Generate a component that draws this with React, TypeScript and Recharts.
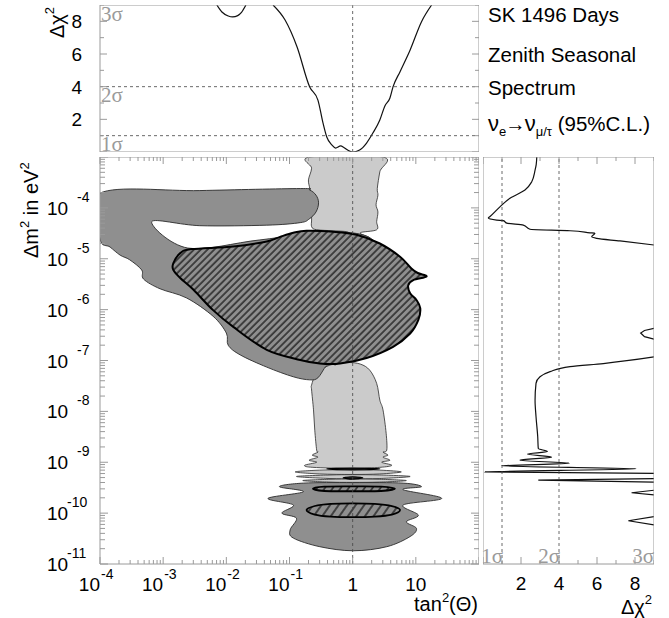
import React from 'react';
import { ComposedChart, Scatter, XAxis, YAxis, ReferenceLine, ReferenceArea } from 'recharts';

const SANS = '"Liberation Sans", Arial, Helvetica, sans-serif';
const SERIF = '"Liberation Serif", "Times New Roman", serif';
const FRAME = '#9a9a9a';
const SIGMA_GREY = '#9a9a9a';
const DARK = '#8f8f8f';
const LIGHT = '#cbcbcb';
const EDGE = '#2a2a2a';

// axes: x = log10(tan²Θ), y = log10(Δm² / eV²), side/top = Δχ²
const X_DOMAIN: [number, number] = [-4, 2];
const Y_DOMAIN: [number, number] = [-11, -3];
const CHI_DOMAIN: [number, number] = [0, 9];
const X_DECADES = [-4, -3, -2, -1, 0, 1, 2];
const Y_DECADES = [-11, -10, -9, -8, -7, -6, -5, -4, -3];
const MINOR_STEPS = [2, 3, 4, 5, 6, 7, 8, 9];
const CHI_TICKS = [0, 1, 2, 3, 4, 5, 6, 7, 8, 9];
const CHI_LABELS = [2, 4, 6, 8];
const SIGMA_LINES = [1, 4];
const SIGMA_NAMES = ['1σ', '2σ', '3σ'];

const X_LABEL_AT = [-4, -3, -2, -1, 0, 1];
const X_LABEL_BASE = ['10', '10', '10', '10', '1', '10'];
const X_LABEL_EXP = ['-4', '-3', '-2', '-1', '', ''];
const Y_LABEL_AT = [-11, -10, -9, -8, -7, -6, -5, -4];
const Y_LABEL_EXP = ['-11', '-10', '-9', '-8', '-7', '-6', '-5', '-4'];

// top panel: Δχ² versus tan²Θ
const TOP_ARC: [number, number][] = [
  [-2.15, 9.0], [-2.07, 8.57], [-1.97, 8.33], [-1.9, 8.27], [-1.82, 8.35], [-1.76, 8.55], [-1.69, 9.0],
];
const TOP_CURVE: [number, number][] = [
  [-1.26, 9.0], [-1.07, 8.08], [-0.88, 6.43], [-0.68, 3.98], [-0.55, 3.18], [-0.47, 1.78], [-0.41, 0.92],
  [-0.33, 0.43], [-0.27, 0.24], [-0.19, 0.37], [-0.14, 0.28], [-0.08, 0.12], [0.0, 0.0], [0.11, 0.12],
  [0.22, 0.55], [0.32, 1.16], [0.43, 1.96], [0.51, 2.82], [0.59, 3.31], [0.64, 4.0], [0.75, 4.92],
  [0.91, 6.25], [1.09, 7.98], [1.25, 9.0],
];

// side panel: Δχ² versus Δm²
const SIDE_A: [number, number][] = [
  [2.83, -3.0], [2.8, -3.15], [2.74, -3.26], [2.56, -3.49], [2.21, -3.65], [1.42, -3.81], [0.89, -3.98],
  [0.37, -4.17], [0.28, -4.2], [0.72, -4.24], [1.07, -4.25], [1.25, -4.3], [2.12, -4.34], [2.47, -4.42],
  [4.58, -4.45], [5.63, -4.49], [5.89, -4.5], [5.72, -4.57], [5.98, -4.6], [7.21, -4.65], [9.0, -4.73],
];
const SIDE_B: [number, number][] = [[9.0, -6.37], [8.5, -6.41], [8.3, -6.46], [8.5, -6.53], [9.0, -6.58]];
const SIDE_C: [number, number][] = [
  [9.0, -6.93], [6.33, -7.06], [4.58, -7.12], [3.53, -7.22], [3.0, -7.32], [2.79, -7.45], [2.74, -7.78],
  [2.79, -8.1], [2.88, -8.5], [2.91, -8.73], [3.39, -8.79], [2.33, -8.84], [3.61, -8.9], [1.95, -8.96],
  [4.54, -9.02], [0.98, -9.07], [8.05, -9.13], [0.1, -9.19], [9.0, -9.22],
];
const SIDE_D: [number, number][] = [[9.0, -9.32], [2.91, -9.35], [9.0, -9.39]];
const SIDE_E: [number, number][] = [[9.0, -9.55], [7.82, -9.6], [9.0, -9.64]];
const SIDE_F: [number, number][] = [[9.0, -10.07], [7.65, -10.15], [9.0, -10.23]];

// main panel regions (outlines)
const LIGHT_UPPER: [number, number][] = [
  [-0.68, -3.0], [-0.65, -3.22], [-0.7, -3.45], [-0.68, -3.62], [-0.67, -3.85], [-0.65, -4.2], [-0.65, -4.37],
  [-0.57, -4.43], [-0.31, -4.45], [-0.09, -4.47], [-0.01, -4.53], [0.27, -4.59], [0.12, -4.49], [0.38, -4.43],
  [0.38, -4.27], [0.4, -4.08], [0.37, -3.94], [0.4, -3.75], [0.39, -3.62], [0.43, -3.29], [0.48, -3.0],
];
const LIGHT_LOWER: [number, number][] = [
  [-0.65, -7.48], [-0.57, -7.25], [-0.36, -7.09], [-0.09, -7.04], [0.12, -7.07], [0.27, -7.19], [0.38, -7.45],
  [0.43, -7.78], [0.48, -7.97], [0.53, -8.43], [0.54, -8.76], [0.48, -8.8], [0.56, -8.86], [0.48, -8.9],
  [0.59, -8.96], [0.46, -9.0], [0.62, -9.06], [0.43, -9.1], [0.0, -9.12], [-0.63, -9.1], [-0.76, -9.06],
  [-0.57, -9.0], [-0.69, -8.96], [-0.55, -8.9], [-0.64, -8.86], [-0.55, -8.8], [-0.57, -8.76], [-0.6, -8.37],
  [-0.62, -7.97], [-0.65, -7.58],
];
const LENS_A: [number, number][] = [
  [-0.91, -9.19], [-0.52, -9.155], [0.0, -9.145], [0.43, -9.155], [0.77, -9.19], [0.43, -9.23], [0.0, -9.24], [-0.52, -9.23],
];
const LENS_B: [number, number][] = [
  [-0.89, -9.28], [-0.36, -9.25], [0.0, -9.245], [0.43, -9.25], [0.91, -9.28], [0.43, -9.32], [0.0, -9.325], [-0.36, -9.32],
];
const LENS_C: [number, number][] = [
  [-0.79, -9.36], [-0.36, -9.335], [0.0, -9.33], [0.43, -9.335], [0.85, -9.36], [0.43, -9.39], [0.0, -9.395], [-0.36, -9.39],
];
const STREAK: [number, number][] = [[-0.41, -9.13], [0.0, -9.115], [0.43, -9.13], [0.0, -9.15]];
const DOT: [number, number][] = [[-0.15, -9.305], [0.0, -9.285], [0.16, -9.305], [0.0, -9.33]];
const DARK_UPPER: [number, number][] = [
  [-4.0, -3.71], [-2.42, -3.66], [-0.83, -3.62], [-0.68, -3.65], [-0.58, -3.75], [-0.54, -3.9], [-0.58, -4.08],
  [-0.69, -4.22], [-0.83, -4.29], [-1.36, -4.34], [-2.42, -4.35], [-3.18, -4.27], [-2.61, -4.79], [-1.47, -4.63],
  [-0.2, -4.47], [0.43, -4.83], [0.43, -6.4], [-0.2, -7.03], [-0.31, -7.07], [-0.42, -7.11], [-0.55, -7.34],
  [-0.68, -7.38], [-0.94, -7.32], [-1.36, -7.13], [-1.78, -6.89], [-1.97, -6.7], [-2.0, -6.46], [-2.21, -6.13],
  [-2.63, -5.77], [-3.05, -5.59], [-3.31, -5.4], [-3.34, -5.22], [-3.53, -5.02], [-3.68, -4.93], [-3.84, -4.77],
  [-4.0, -4.61],
];
const DARK_LOWER: [number, number][] = [
  [-1.16, -9.48], [-0.78, -9.41], [0.0, -9.4], [0.8, -9.41], [1.09, -9.48], [0.8, -9.54], [1.41, -9.71],
  [0.8, -9.84], [1.04, -10.04], [0.85, -10.17], [1.01, -10.3], [0.91, -10.46], [0.54, -10.66], [0.01, -10.74],
  [-0.52, -10.66], [-0.94, -10.49], [-0.99, -10.33], [-0.89, -10.1], [-1.12, -10.0], [-0.94, -9.84],
  [-1.34, -9.71], [-0.78, -9.58],
];
const HATCH_MAIN: [number, number][] = [
  [-2.84, -5.09], [-2.73, -4.89], [-2.55, -4.81], [-1.89, -4.76], [-1.36, -4.66], [-1.15, -4.57], [-0.94, -4.49],
  [-0.73, -4.45], [-0.31, -4.47], [0.06, -4.53], [0.43, -4.7], [0.75, -4.96], [0.93, -5.19], [1.03, -5.28],
  [1.17, -5.35], [0.96, -5.42], [0.88, -5.52], [0.91, -5.68], [1.01, -5.81], [1.07, -5.97], [1.04, -6.2],
  [0.91, -6.47], [0.64, -6.73], [0.22, -6.95], [-0.2, -7.06], [-0.52, -7.06], [-0.83, -6.99], [-1.36, -6.79],
  [-1.89, -6.34], [-2.21, -6.01], [-2.52, -5.61], [-2.73, -5.38], [-2.84, -5.22],
];
const HATCH_THIN: [number, number][] = [
  [-0.63, -9.52], [-0.45, -9.48], [0.02, -9.475], [0.45, -9.48], [0.67, -9.52], [0.45, -9.565], [0.02, -9.57], [-0.45, -9.565],
];
const HATCH_OVAL: [number, number][] = [
  [-0.73, -9.94], [-0.6, -9.86], [-0.35, -9.82], [0.0, -9.81], [0.35, -9.82], [0.62, -9.86], [0.75, -9.94],
  [0.62, -10.03], [0.35, -10.07], [0.0, -10.08], [-0.35, -10.07], [-0.6, -10.03],
];

const MAIN = { left: 100, top: 157, w: 379, h: 407 };
const TOP = { top: 5, h: 147 };
const SIDE = { left: 483, w: 171 };

const pts = (a: [number, number][]) => a.map(([x, y]) => ({ x, y }));
const logTicks = (dec: number[]) =>
  dec.flatMap((d, i) => (i < dec.length - 1 ? [d, ...MINOR_STEPS.map((k) => d + Math.log10(k))] : [d]));
const X_TICKS = logTicks(X_DECADES);
const Y_TICKS = logTicks(Y_DECADES);
const whole = (v: number) => Math.abs(v - Math.round(v)) < 1e-6;
const find = (arr: number[], v: number) => arr.findIndex((a) => Math.abs(a - v) < 1e-6);
const noDot = () => <g />;

type P = { x: number; y: number };
function closedPath(p: P[]) {
  const n = p.length;
  let d = `M${p[0].x},${p[0].y}`;
  for (let i = 0; i < n; i++) {
    const a = p[(i - 1 + n) % n], b = p[i], c = p[(i + 1) % n], e = p[(i + 2) % n];
    d += `C${b.x + (c.x - a.x) / 6},${b.y + (c.y - a.y) / 6} ${c.x - (e.x - b.x) / 6},${c.y - (e.y - b.y) / 6} ${c.x},${c.y}`;
  }
  return d + 'Z';
}

function blob(fill: string, stroke: string, sw: number, hatch?: { id: string; gap: number; angle: number }) {
  return (lp: any) => {
    const p: P[] = (lp.points || []).filter((q: any) => q && q.x != null && q.y != null);
    if (p.length < 3) return <g />;
    return (
      <g>
        {hatch && (
          <defs>
            <pattern id={hatch.id} patternUnits="userSpaceOnUse" width={hatch.gap} height={hatch.gap}
              patternTransform={`rotate(${hatch.angle})`}>
              <rect width={hatch.gap} height={hatch.gap} fill={fill} />
              <line x1={1} y1={0} x2={1} y2={hatch.gap} stroke="#111" strokeWidth={1.25} />
            </pattern>
          </defs>
        )}
        <path d={closedPath(p)} fill={hatch ? `url(#${hatch.id})` : fill} stroke={stroke} strokeWidth={sw}
          strokeLinejoin="round" />
      </g>
    );
  };
}

const txt = { fontFamily: SANS, fill: '#000' };

function MainXTick({ x, y, payload }: any) {
  const v = payload.value;
  const len = whole(v) ? 7 : 4;
  const i = find(X_LABEL_AT, v);
  return (
    <g>
      <line x1={x} y1={y} x2={x} y2={y - len} stroke={FRAME} />
      <line x1={x} y1={y - MAIN.h} x2={x} y2={y - MAIN.h + len} stroke={FRAME} />
      {i >= 0 && X_LABEL_EXP[i] === '' && (
        <text x={x} y={y + 27} textAnchor="middle" fontSize={19} {...txt}>{X_LABEL_BASE[i]}</text>
      )}
      {i >= 0 && X_LABEL_EXP[i] !== '' && (
        <g>
          <text x={x} y={y + 27} textAnchor="end" fontSize={19} {...txt}>{X_LABEL_BASE[i]}</text>
          <text x={x + 1} y={y + 15} fontSize={14} {...txt}>{X_LABEL_EXP[i]}</text>
        </g>
      )}
    </g>
  );
}

function MainYTick({ x, y, payload }: any) {
  const v = payload.value;
  const len = whole(v) ? 8 : 5;
  const i = find(Y_LABEL_AT, v);
  const e = i >= 0 ? Y_LABEL_EXP[i] : '';
  return (
    <g>
      <line x1={x} y1={y} x2={x + len} y2={y} stroke={FRAME} />
      <line x1={x + MAIN.w} y1={y} x2={x + MAIN.w - len} y2={y} stroke={FRAME} />
      {i >= 0 && (
        <g>
          <text x={x - 53} y={y + 7} fontSize={19} {...txt}>10</text>
          <text x={x - (e.length > 2 ? 33 : 23)} y={y - 6} fontSize={14} {...txt}>{e}</text>
        </g>
      )}
    </g>
  );
}

function TopXTick({ x, y, payload }: any) {
  const len = whole(payload.value) ? 7 : 4;
  return (
    <g>
      <line x1={x} y1={y} x2={x} y2={y - len} stroke={FRAME} />
      <line x1={x} y1={y - TOP.h} x2={x} y2={y - TOP.h + len} stroke={FRAME} />
    </g>
  );
}

function TopYTick({ x, y, payload }: any) {
  const v = payload.value;
  const len = v % 2 === 0 ? 7 : 4;
  return (
    <g>
      <line x1={x} y1={y} x2={x + len} y2={y} stroke={FRAME} />
      <line x1={x + MAIN.w} y1={y} x2={x + MAIN.w - len} y2={y} stroke={FRAME} />
      {CHI_LABELS.includes(v) && (
        <text x={x - 18} y={y + 7} textAnchor="end" fontSize={19} {...txt}>{v}</text>
      )}
    </g>
  );
}

function SideXTick({ x, y, payload }: any) {
  const v = payload.value;
  const len = v % 2 === 0 ? 7 : 4;
  return (
    <g>
      <line x1={x} y1={y} x2={x} y2={y - len} stroke={FRAME} />
      <line x1={x} y1={y - MAIN.h} x2={x} y2={y - MAIN.h + len} stroke={FRAME} />
      {CHI_LABELS.includes(v) && (
        <text x={x} y={y + 26} textAnchor="middle" fontSize={19} {...txt}>{v}</text>
      )}
    </g>
  );
}

function SideYTick({ x, y, payload }: any) {
  const len = whole(payload.value) ? 8 : 5;
  return (
    <g>
      <line x1={x} y1={y} x2={x + len} y2={y} stroke={FRAME} />
      <line x1={x + SIDE.w} y1={y} x2={x + SIDE.w - len} y2={y} stroke={FRAME} />
    </g>
  );
}

const axisCommon = {
  type: 'number' as const,
  allowDataOverflow: true,
  interval: 0 as const,
  tickSize: 0,
  tickMargin: 0,
  axisLine: false,
  tickLine: false,
  zIndex: 1500,
};
const dash = { stroke: '#444', strokeDasharray: '3 3', strokeWidth: 0.8, zIndex: 1400 };
const zero = { top: 0, right: 0, bottom: 0, left: 0 };

const REGIONS = [
  { d: LIGHT_UPPER, r: blob(LIGHT, EDGE, 0.8) },
  { d: LIGHT_LOWER, r: blob(LIGHT, EDGE, 0.8) },
  { d: LENS_A, r: blob(LIGHT, EDGE, 0.8) },
  { d: LENS_B, r: blob(LIGHT, EDGE, 0.8) },
  { d: LENS_C, r: blob(LIGHT, EDGE, 0.8) },
  { d: DARK_UPPER, r: blob(DARK, EDGE, 0.9) },
  { d: DARK_LOWER, r: blob(DARK, EDGE, 0.9) },
  { d: STREAK, r: blob('#333', '#000', 1.2) },
  { d: DOT, r: blob('#333', '#000', 1.2) },
  { d: HATCH_MAIN, r: blob(DARK, '#000', 2, { id: 'hatchMain', gap: 4.8, angle: 45 }) },
  { d: HATCH_THIN, r: blob(DARK, '#000', 1.8, { id: 'hatchThin', gap: 6.5, angle: 35 }) },
  { d: HATCH_OVAL, r: blob(DARK, '#000', 1.8, { id: 'hatchOval', gap: 7, angle: 35 }) },
];

export default function App() {
  return (
    <div style={{ position: 'absolute', left: 0, top: 0, width: 669, height: 618, overflow: 'hidden', background: '#fff' }}>
      {/* top panel */}
      <div style={{ position: 'absolute', left: 0, top: TOP.top }}>
        <ComposedChart width={MAIN.left + MAIN.w} height={TOP.h} margin={zero}>
          {[TOP_ARC, TOP_CURVE].map((d, i) => (
            <Scatter key={i} xAxisId="b" yAxisId="l" data={pts(d)} shape={noDot} isAnimationActive={false}
              line={{ stroke: '#111', strokeWidth: 1.2 }} lineJointType="monotoneX" />
          ))}
          {SIGMA_LINES.map((s) => (
            <ReferenceLine key={s} xAxisId="b" yAxisId="l" y={s} {...dash} />
          ))}
          <ReferenceLine xAxisId="b" yAxisId="l" x={0} {...dash} />
          <ReferenceArea xAxisId="b" yAxisId="l" x1={X_DOMAIN[0]} x2={X_DOMAIN[1]} y1={CHI_DOMAIN[0]} y2={CHI_DOMAIN[1]}
            fill="none" stroke={FRAME} strokeWidth={1} ifOverflow="visible" zIndex={1450} />
          <XAxis xAxisId="b" dataKey="x" domain={X_DOMAIN} ticks={X_TICKS} height={0} tick={(p: any) => <TopXTick {...p} />} {...axisCommon} />
          <YAxis yAxisId="l" dataKey="y" domain={CHI_DOMAIN} ticks={CHI_TICKS} width={MAIN.left} tick={(p: any) => <TopYTick {...p} />} {...axisCommon} />
        </ComposedChart>
      </div>

      {/* main panel */}
      <div style={{ position: 'absolute', left: 0, top: MAIN.top }}>
        <ComposedChart width={MAIN.left + MAIN.w} height={618 - MAIN.top} margin={zero}>
          {REGIONS.map((g, i) => (
            <Scatter key={i} xAxisId="b" yAxisId="l" data={pts(g.d)} shape={noDot} isAnimationActive={false} line={g.r} />
          ))}
          <ReferenceLine xAxisId="b" yAxisId="l" x={0} {...dash} />
          <ReferenceArea xAxisId="b" yAxisId="l" x1={X_DOMAIN[0]} x2={X_DOMAIN[1]} y1={Y_DOMAIN[0]} y2={Y_DOMAIN[1]}
            fill="none" stroke={FRAME} strokeWidth={1} ifOverflow="visible" zIndex={1450} />
          <XAxis xAxisId="b" dataKey="x" domain={X_DOMAIN} ticks={X_TICKS} height={618 - MAIN.top - MAIN.h} tick={(p: any) => <MainXTick {...p} />} {...axisCommon} />
          <YAxis yAxisId="l" dataKey="y" domain={Y_DOMAIN} ticks={Y_TICKS} width={MAIN.left} tick={(p: any) => <MainYTick {...p} />} {...axisCommon} />
        </ComposedChart>
      </div>

      {/* side panel */}
      <div style={{ position: 'absolute', left: SIDE.left, top: MAIN.top }}>
        <ComposedChart width={SIDE.w} height={618 - MAIN.top} margin={zero}>
          {[SIDE_A, SIDE_B, SIDE_C, SIDE_D, SIDE_E, SIDE_F].map((d, i) => (
            <Scatter key={i} xAxisId="b" yAxisId="l" data={pts(d)} shape={noDot} isAnimationActive={false}
              line={{ stroke: '#111', strokeWidth: 1.2 }} lineJointType={i === 0 || i === 2 ? 'monotoneY' : 'linear'} />
          ))}
          {SIGMA_LINES.map((s) => (
            <ReferenceLine key={s} xAxisId="b" yAxisId="l" x={s} {...dash} />
          ))}
          <ReferenceArea xAxisId="b" yAxisId="l" x1={CHI_DOMAIN[0]} x2={CHI_DOMAIN[1]} y1={Y_DOMAIN[0]} y2={Y_DOMAIN[1]}
            fill="none" stroke={FRAME} strokeWidth={1} ifOverflow="visible" zIndex={1450} />
          <XAxis xAxisId="b" dataKey="x" domain={CHI_DOMAIN} ticks={CHI_TICKS} height={618 - MAIN.top - MAIN.h} tick={(p: any) => <SideXTick {...p} />} {...axisCommon} />
          <YAxis yAxisId="l" dataKey="y" domain={Y_DOMAIN} ticks={Y_TICKS} width={0} tick={(p: any) => <SideYTick {...p} />} {...axisCommon} />
        </ComposedChart>
      </div>

      {/* titles and annotations */}
      <svg width={669} height={618} style={{ position: 'absolute', left: 0, top: 0, pointerEvents: 'none' }}>
        <g fontFamily={SANS} fill="#000" fontSize={20.5}>
          <text x={488} y={22}>SK 1496 Days</text>
          <text x={488} y={62}>Zenith Seasonal</text>
          <text x={488} y={95}>Spectrum</text>
          <text x={488} y={131}>
            <tspan fontSize={22}>ν</tspan><tspan fontSize={13} dy={5}>e</tspan><tspan dy={-5} dx={-1}>→</tspan>
            <tspan fontSize={22} dx={-1}>ν</tspan><tspan fontSize={13} dy={5}>μ/τ</tspan><tspan dy={-5}> (95%C.L.)</tspan>
          </text>
        </g>
        <g fontFamily={SANS} fill="#000" fontSize={20}>
          <text x={478} y={611} textAnchor="end">
            tan<tspan fontSize={13} dy={-9}>2</tspan><tspan dy={9}>(Θ)</tspan>
          </text>
          <text x={621} y={614}>
            Δχ<tspan fontSize={13} dy={-10}>2</tspan>
          </text>
          <text transform="translate(38,258) rotate(-90)">
            Δm<tspan fontSize={13} dy={-9}>2</tspan><tspan dy={9}> in eV</tspan><tspan fontSize={13} dy={-9}>2</tspan>
          </text>
          <text transform="translate(64,38) rotate(-90)">
            Δχ<tspan fontSize={13} dy={-10}>2</tspan>
          </text>
        </g>
        <g fontFamily={SERIF} fill={SIGMA_GREY} fontSize={21}>
          <text x={101} y={21}>{SIGMA_NAMES[2]}</text>
          <text x={101} y={102}>{SIGMA_NAMES[1]}</text>
          <text x={101} y={151}>{SIGMA_NAMES[0]}</text>
          <text x={503} y={563} textAnchor="end">{SIGMA_NAMES[0]}</text>
          <text x={560} y={563} textAnchor="end">{SIGMA_NAMES[1]}</text>
          <text x={654} y={563} textAnchor="end">{SIGMA_NAMES[2]}</text>
        </g>
      </svg>
    </div>
  );
}
